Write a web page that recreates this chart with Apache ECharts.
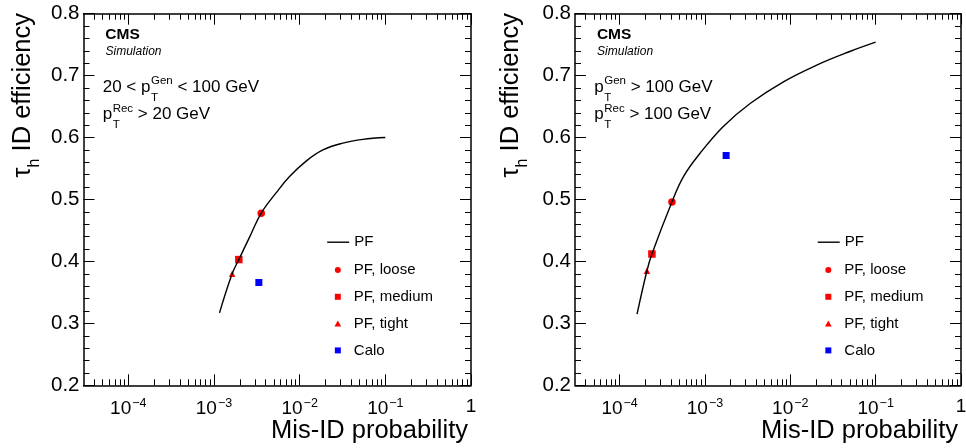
<!DOCTYPE html>
<html>
<head>
<meta charset="utf-8">
<script src="https://cdn.jsdelivr.net/npm/echarts@6/dist/echarts.min.js"></script>
<style>
html,body{margin:0;padding:0;background:#fff;}
#c{width:966px;height:448px;}
</style>
</head>
<body>
<div id="c"></div>
<script>
// ---------- data ----------
const xMinProb = 3e-5;
const xMaxProb = 1;
const yMin = 0.2, yMax = 0.8, yStep = 0.1;
const xTickExps = [-4, -3, -2, -1, 0];
const lineLegendNames = ['PF'];
const markerLegendNames = ['PF, loose', 'PF, medium', 'PF, tight', 'Calo'];

// left panel: 20 < pT(gen) < 100 GeV
const pfLeftProb = [1.16e-3, 1.63e-3, 1.95e-3, 2.62e-3, 3.56e-3, 5.33e-3, 7.62e-3, 1.19e-2, 1.87e-2, 3.19e-2, 5.47e-2, 0.1];
const pfLeftEff  = [0.317, 0.380, 0.403, 0.440, 0.478, 0.511, 0.537, 0.562, 0.580, 0.591, 0.597, 0.600];
const looseLeft  = [3.56e-3, 0.478];
const mediumLeft = [1.95e-3, 0.403];
const tightLeft  = [1.63e-3, 0.380];
const caloLeft   = [3.34e-3, 0.366];

// right panel: pT(gen) > 100 GeV
const pfRightProb = [1.6e-4, 2.09e-4, 2.39e-4, 4.1e-4, 5.6e-4, 8.8e-4, 1.64e-3, 3.38e-3, 8.3e-3, 2.04e-2, 4.99e-2, 0.1];
const pfRightEff  = [0.315, 0.385, 0.412, 0.496, 0.537, 0.575, 0.618, 0.655, 0.690, 0.717, 0.739, 0.754];
const looseRight  = [4.1e-4, 0.496];
const mediumRight = [2.39e-4, 0.412];
const tightRight  = [2.09e-4, 0.385];
const caloRight   = [1.77e-3, 0.571];

// ---------- helpers ----------
const FONT = '"Liberation Sans", Arial, Helvetica, sans-serif';
const lg = Math.log10;
const xMin = lg(xMinProb), xMax = lg(xMaxProb);
const minorVals = [];
for (let n = -5; n <= -1; n++) for (let k = 2; k <= 9; k++) {
  const v = lg(k * Math.pow(10, n));
  if (v > xMin && v < xMax) minorVals.push(v);
}
const toXY = (xs, ys) => xs.map((x, i) => [lg(x), ys[i]]);
const pt = p => [[lg(p[0]), p[1]]];

const grids = [
  {left: 83.5, right: 495, top: 13.7, bottom: 62.7, outerBoundsMode: 'none'},
  {left: 575, right: 5, top: 13.7, bottom: 62.7, outerBoundsMode: 'none'}
];

const axisLineStyle = {color: '#000', width: 1.5};
function xAxes(gi) {
  const base = {gridIndex: gi, type: 'value', min: xMin, max: xMax, splitLine: {show: false}};
  return [
    Object.assign({}, base, {position: 'bottom',
      axisLine: {show: true, onZero: false, lineStyle: axisLineStyle},
      axisTick: {show: true, inside: true, length: 11, customValues: xTickExps, lineStyle: {color: '#000', width: 1}},
      axisLabel: {show: true, customValues: xTickExps, margin: 12, color: '#000',
        formatter: v => { const e = Math.round(v); return e === 0 ? '{b|1}' : '{b|10}{s|\u2212' + (-e) + '}'; },
        rich: {b: {fontSize: 19, fontFamily: FONT, color: '#000', verticalAlign: 'bottom'},
               s: {fontSize: 12.5, fontFamily: FONT, color: '#000', verticalAlign: 'bottom', padding: [0, 0, 8, 1]}}}
    }),
    Object.assign({}, base, {position: 'bottom',
      axisLine: {show: false, onZero: false},
      axisTick: {show: true, inside: true, length: 6, customValues: minorVals, lineStyle: {color: '#000', width: 1}},
      axisLabel: {show: false}
    }),
    Object.assign({}, base, {position: 'top',
      axisLine: {show: true, onZero: false, lineStyle: axisLineStyle},
      axisTick: {show: true, inside: true, length: 11, customValues: xTickExps, lineStyle: {color: '#000', width: 1}},
      axisLabel: {show: false}
    }),
    Object.assign({}, base, {position: 'top',
      axisLine: {show: false, onZero: false},
      axisTick: {show: true, inside: true, length: 6, customValues: minorVals, lineStyle: {color: '#000', width: 1}},
      axisLabel: {show: false}
    })
  ];
}
function yAxes(gi) {
  const base = {gridIndex: gi, type: 'value', min: yMin, max: yMax, interval: yStep, splitLine: {show: false},
    axisLine: {show: true, onZero: false, lineStyle: axisLineStyle},
    axisTick: {show: true, inside: true, length: 11, lineStyle: {color: '#000', width: 1}},
    minorTick: {show: true, splitNumber: 5, length: 6, lineStyle: {color: '#000', width: 1}}};
  return [
    Object.assign({}, base, {position: 'left',
      axisLabel: {show: true, margin: 4, color: '#000', fontSize: 20.5, fontFamily: FONT, formatter: v => v.toFixed(1)}}),
    Object.assign({}, base, {position: 'right', axisLabel: {show: false}})
  ];
}

function panelSeries(xi, yi, pf, loose, medium, tight, calo) {
  return [
    {name: 'PF', type: 'line', xAxisIndex: xi, yAxisIndex: yi, data: pf, symbol: 'none', showSymbol: false,
     smooth: 0.4, lineStyle: {color: '#000', width: 1.4}, itemStyle: {color: '#000'}},
    {name: 'PF, loose', type: 'scatter', xAxisIndex: xi, yAxisIndex: yi, data: loose, symbol: 'circle', symbolSize: 7.5,
     itemStyle: {color: '#ff0000', opacity: 1}},
    {name: 'PF, medium', type: 'scatter', xAxisIndex: xi, yAxisIndex: yi, data: medium, symbol: 'rect', symbolSize: 7.5,
     itemStyle: {color: '#ff0000', opacity: 1}},
    {name: 'PF, tight', type: 'scatter', xAxisIndex: xi, yAxisIndex: yi, data: tight, symbol: 'triangle', symbolSize: 6.5,
     itemStyle: {color: '#ff0000', opacity: 1}},
    {name: 'Calo', type: 'scatter', xAxisIndex: xi, yAxisIndex: yi, data: calo, symbol: 'rect', symbolSize: 7,
     itemStyle: {color: '#0000ff', opacity: 1}}
  ];
}

const SQUARE = 'path://M0,0H10V10H0Z';
const TRIANGLE = 'path://M5,0L10,9H0Z';
const markerIcons = ['circle', SQUARE, TRIANGLE, SQUARE];
const legTop = 235.2;
function legends(lineLeft) {
  return [
    {orient: 'vertical', left: lineLeft, top: legTop - 1, padding: 0, itemWidth: 22, itemHeight: 8, itemGap: 10.8,
     selectedMode: false, itemStyle: {opacity: 0}, lineStyle: {color: '#000', width: 1.4},
     textStyle: {fontSize: 15, fontFamily: FONT, color: '#000', lineHeight: 16},
     data: lineLegendNames.map(n => ({name: n}))},
    // icons are 6px wide, centred in a 22px slot: the legend box starts at the icon, 8px into the slot
    {orient: 'vertical', left: lineLeft + 8, top: legTop + 26.8, padding: 0, itemWidth: 22, itemHeight: 6, itemGap: 10.8,
     selectedMode: false, symbolKeepAspect: true,
     textStyle: {fontSize: 15, fontFamily: FONT, color: '#000', lineHeight: 16},
     data: markerLegendNames.map((n, i) => ({name: n, icon: markerIcons[i]}))}
  ];
}

// text measuring for stacked super/subscripts
const mctx = document.createElement('canvas').getContext('2d');
function tw(s, size, weight) { mctx.font = (weight || 'normal') + ' ' + size + 'px ' + FONT; return mctx.measureText(s).width; }
function t(x, y, s, size, extra) {
  return {type: 'text', x: x, y: y, silent: true,
    style: Object.assign({text: s, fontSize: size, fontFamily: FONT, fill: '#000', align: 'left', verticalAlign: 'middle'}, extra || {})};
}
const MS = 17, SS = 11.5, TS = 25.5;
function pline(x, base, parts) {
  const els = []; let cx = x;
  parts.forEach(p => {
    if (typeof p === 'string') {
      els.push(t(cx, base - 0.35 * MS, p, MS)); cx += tw(p, MS);
    } else {
      cx += 0.5;
      els.push(t(cx, base - 8.3 - 0.35 * SS, p.sup, SS));
      els.push(t(cx, base + 8.4 - 0.35 * SS, p.sub, SS));
      cx += Math.max(tw(p.sup, SS), tw(p.sub, SS));
    }
  });
  return els;
}
function panelText(x0, lines, plotRight, yTitleX) {
  let els = [
    t(x0 + 2.6, 34.7, 'CMS', 15.5, {fontWeight: 'bold'}),
    t(x0 + 2.8, 51.7, 'Simulation', 12, {fontStyle: 'italic'})
  ];
  els = els.concat(pline(x0, 93.3, lines[0]), pline(x0, 120.7, lines[1]));
  els.push(t(plotRight - 3, 431, 'Mis-ID probability', TS, {align: 'right'}));
  els.push({type: 'text', x: yTitleX, y: 13, rotation: Math.PI / 2, silent: true,
    style: {text: '{t|\u03c4}{h|h}{t| ID efficiency}', align: 'right', verticalAlign: 'middle', fill: '#000',
      rich: {t: {fontSize: TS, fontFamily: FONT, color: '#000', verticalAlign: 'bottom', padding: [0, 0, 7, 0]},
             h: {fontSize: 16, fontFamily: FONT, color: '#000', verticalAlign: 'bottom'}}}});
  return els;
}

const graphics = [].concat(
  panelText(102.7, [['20 < p', {sup: 'Gen', sub: 'T'}, ' < 100 GeV'], ['p', {sup: 'Rec', sub: 'T'}, ' > 20 GeV']], 471, 26),
  panelText(594.3, [['p', {sup: 'Gen', sub: 'T'}, ' > 100 GeV'], ['p', {sup: 'Rec', sub: 'T'}, ' > 100 GeV']], 961, 514)
);

const option = {
  animation: false,
  backgroundColor: '#fff',
  grid: grids,
  xAxis: xAxes(0).concat(xAxes(1)),
  yAxis: yAxes(0).concat(yAxes(1)),
  legend: legends(326.5).concat(legends(817)),
  graphic: graphics,
  series: [].concat(
    panelSeries(0, 0, toXY(pfLeftProb, pfLeftEff), pt(looseLeft), pt(mediumLeft), pt(tightLeft), pt(caloLeft)),
    panelSeries(4, 2, toXY(pfRightProb, pfRightEff), pt(looseRight), pt(mediumRight), pt(tightRight), pt(caloRight))
  )
};
const chart = echarts.init(document.getElementById('c'), null, {renderer: 'canvas'});
chart.setOption(option);
</script>
</body>
</html>
